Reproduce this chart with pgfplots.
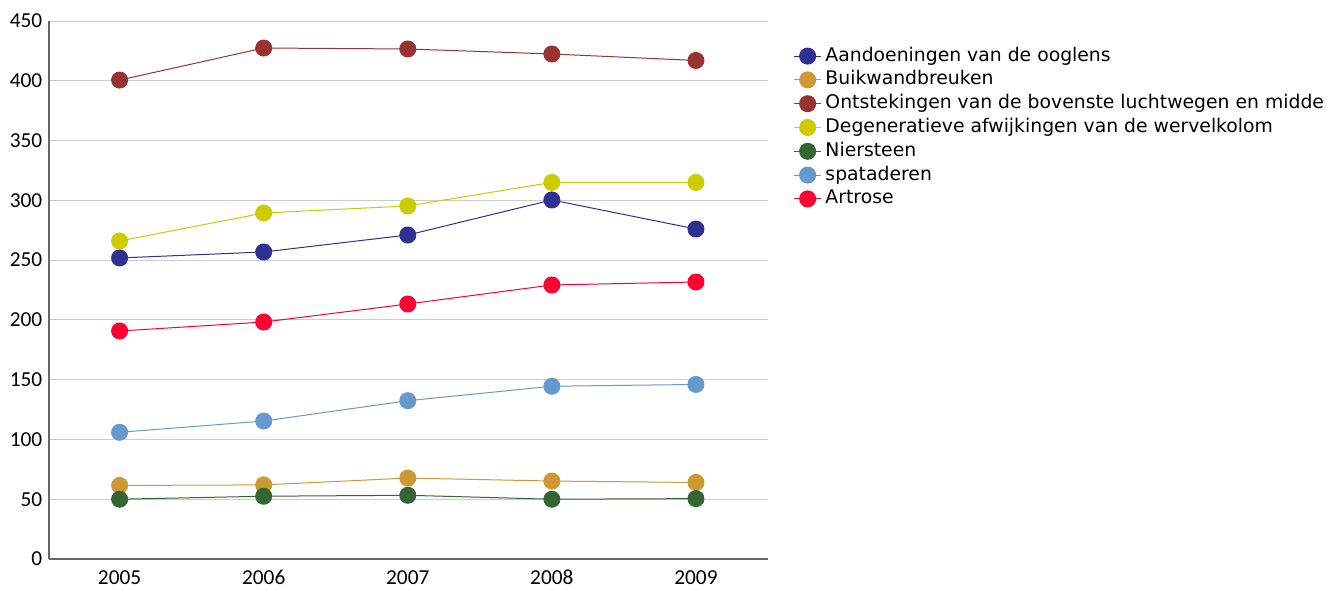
\documentclass[border=0pt]{standalone}
\usepackage{fontspec}
\usepackage{pgfplots}
\pgfplotsset{compat=1.18}
\setmainfont{DejaVu Sans}
\newfontfamily\tickfont{Carlito}
\definecolor{cBlue}{HTML}{2E3192}
\definecolor{cOrange}{HTML}{CC9933}
\definecolor{cBrown}{HTML}{993333}
\definecolor{cYellow}{HTML}{CCCC00}
\definecolor{cGreen}{HTML}{336633}
\definecolor{cLBlue}{HTML}{6699CC}
\definecolor{cRed}{HTML}{FF0033}
\begin{document}
\begin{tikzpicture}
\begin{axis}[
  scale only axis, width=539.25pt, height=403.5pt,
  xmin=2004.51, xmax=2009.5, ymin=0, ymax=450,
  xtick={2005,2006,2007,2008,2009}, ytick={0,50,...,450},
  axis x line*=bottom, axis y line*=left,
  axis line style={draw=black!60, line width=1pt},
  ymajorgrids, grid style={draw=black!20, line width=0.75pt},
  major tick length=0pt,
  tick label style={font=\tickfont\fontsize{16}{18}\selectfont},
  /pgf/number format/assume math mode=true,
  x tick label style={/pgf/number format/1000 sep={}, yshift=-5pt},
  y tick label style={xshift=-1.5pt},
  legend style={at={(rel axis cs:1.0355,0.952)}, anchor=north west, draw=none, fill=none,
    font=\fontsize{14.1}{17}\selectfont, inner sep=0pt, row sep=4.35pt, column sep=3pt,
    nodes={inner sep=0pt, text height=10.5pt, text depth=3pt}},
  legend cell align=left,
  legend image code/.code={\draw[mark repeat=2,mark phase=2] plot coordinates {(0pt,0pt) (10pt,0pt) (20pt,0pt)};},
  every axis plot/.append style={line width=0.75pt, mark=*, mark size=6pt},
]
\addplot[cBlue] coordinates {(2005,251.8) (2006,256.8) (2007,271) (2008,300.3) (2009,276)};
\addlegendentry{Aandoeningen van de ooglens}
\addplot[cOrange] coordinates {(2005,61.5) (2006,62) (2007,67.7) (2008,65.2) (2009,64)};
\addlegendentry{Buikwandbreuken}
\addplot[cBrown] coordinates {(2005,400.6) (2006,427.4) (2007,426.6) (2008,422.4) (2009,417)};
\addlegendentry{Ontstekingen van de bovenste luchtwegen en midde}
\addplot[cYellow] coordinates {(2005,266) (2006,289.4) (2007,295.3) (2008,315) (2009,315)};
\addlegendentry{Degeneratieve afwijkingen van de wervelkolom}
\addplot[cGreen] coordinates {(2005,50) (2006,52.5) (2007,53.3) (2008,50) (2009,50.5)};
\addlegendentry{Niersteen}
\addplot[cLBlue] coordinates {(2005,106) (2006,115.4) (2007,132.4) (2008,144.5) (2009,146)};
\addlegendentry{spataderen}
\addplot[cRed] coordinates {(2005,190.7) (2006,198.2) (2007,213.3) (2008,229.2) (2009,231.7)};
\addlegendentry{Artrose}
\end{axis}
\pgfresetboundingbox
\path (-36.75pt,-22.5pt) rectangle (966.75pt,419.25pt);
\end{tikzpicture}
\end{document}
